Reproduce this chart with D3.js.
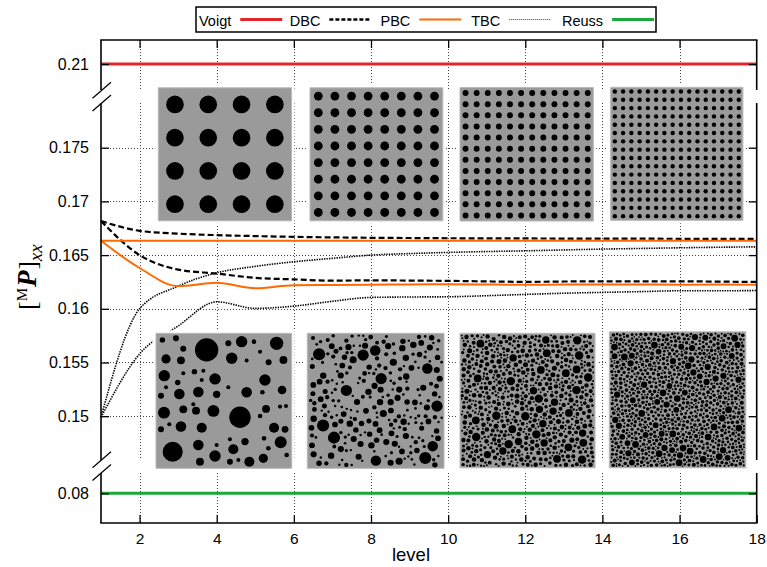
<!DOCTYPE html>
<html>
<head>
<meta charset="utf-8">
<script src="https://cdn.jsdelivr.net/npm/d3@7"></script>
<style>
  body { margin: 0; background: #fff; }
  svg { display: block; font-family: "Liberation Sans", Arial, Helvetica, sans-serif; }
</style>
</head>
<body>
<svg id="chart" width="767" height="567"></svg>
<script>
// ---- data --------------------------------------------------------------
const levels = [1, 2, 3, 4, 5, 6, 7, 8, 9, 10, 11, 12, 13, 14, 15, 16, 17, 18];

// upper bound (Voigt) and lower bound (Reuss)
const voigt = 0.21;
const reuss = 0.08;

// DBC: dirichlet boundary conditions (regular / random microstructures)
const dbcRegular = [0.16817, 0.16726, 0.16700, 0.16686, 0.16677, 0.16670, 0.16665, 0.16661, 0.16659,
                    0.16657, 0.16656, 0.16655, 0.16654, 0.16653, 0.16653, 0.16652, 0.16652, 0.16651];
const dbcRandom  = [0.16817, 0.16500, 0.16365, 0.16328, 0.16288, 0.16274, 0.16262, 0.16265, 0.16263,
                    0.16260, 0.16255, 0.16251, 0.16254, 0.16256, 0.16255, 0.16256, 0.16253, 0.16250];
// PBC: periodic boundary conditions
const pbcRegular = [0.16633, 0.16633, 0.16633, 0.16633, 0.16633, 0.16633, 0.16633, 0.16633, 0.16633,
                    0.16633, 0.16633, 0.16633, 0.16633, 0.16633, 0.16633, 0.16633, 0.16633, 0.16633];
const pbcRandom  = [0.16633, 0.16380, 0.16212, 0.16242, 0.16192, 0.16220, 0.16222, 0.16224, 0.16227,
                    0.16228, 0.16226, 0.16224, 0.16226, 0.16227, 0.16226, 0.16225, 0.16226, 0.16225];
// TBC: traction boundary conditions
const tbcRegular = [0.14990, 0.16000, 0.16211, 0.16335, 0.16395, 0.16438, 0.16470, 0.16500, 0.16514,
                    0.16525, 0.16533, 0.16540, 0.16548, 0.16556, 0.16562, 0.16568, 0.16573, 0.16577];
const tbcRandom  = [0.14990, 0.15580, 0.15840, 0.16065, 0.16004, 0.16025, 0.16070, 0.16106, 0.16110,
                    0.16112, 0.16122, 0.16134, 0.16145, 0.16153, 0.16160, 0.16168, 0.16168, 0.16170];

// axis ticks
const xTicks = [2, 4, 6, 8, 10, 12, 14, 16, 18];
const yTicksMain = [0.15, 0.155, 0.16, 0.165, 0.17, 0.175];
const yTicksUpper = [0.21];
const yTicksLower = [0.08];

// legend entries
const legendNames = ["Voigt", "DBC", "PBC", "TBC", "Reuss"];

// inset microstructures: inclusions per side of the regular arrays
const regularCounts = [4, 8, 12, 16];
// random microstructure of the coarsest level: [cx, cy, r] in a 100x100 cell
const randomCell = [
  [37.3, 12.3, 8.6], [61.9, 62.2, 7.9], [12.3, 87.7, 7.4], [88.9, 7.4, 4.9], [63.1, 6.2, 4.2],
  [5.9, 58.8, 4.4], [80.3, 34.6, 4.2], [43.5, 33.8, 4.2], [42.3, 57.5, 4.4], [6.1, 31.4, 4.2],
  [91.9, 80.7, 4.4], [55.8, 18.5, 4.2], [17.2, 44.9, 3.9], [31.2, 43.5, 3.9], [66.8, 43.7, 3.9],
  [18.4, 69.1, 3.9], [33.7, 69.9, 3.7], [31.2, 82.7, 3.9], [43.5, 90.9, 4.2], [68.8, 95.1, 3.7],
  [79.1, 92.6, 3.4], [57.0, 85.9, 3.7], [87.0, 69.9, 3.7], [93.9, 19.8, 2.9], [92.9, 42.0, 3.2],
  [7.4, 19.0, 3.4], [18.4, 20.0, 2.9], [81.1, 56.0, 2.9], [20.1, 56.3, 2.9], [29.5, 57.3, 2.9],
  [65.6, 80.2, 2.7], [54.5, 95.1, 2.2], [32.4, 95.1, 2.9], [95.1, 71.1, 2.5], [44.7, 45.2, 2.7],
  [3.7, 46.2, 2.2], [3.7, 71.1, 2.2], [83.0, 21.5, 2.2], [20.1, 11.4, 2.2], [4.7, 4.9, 2.0],
  [14.7, 3.7, 2.2], [53.3, 7.4, 2.2], [72.2, 6.2, 1.7], [76.7, 13.6, 1.5], [66.8, 20.2, 1.5],
  [20.1, 29.6, 1.5], [28.3, 28.4, 2.0], [34.9, 27.7, 1.5], [16.0, 36.5, 2.0], [33.7, 34.6, 1.5],
  [7.4, 40.0, 1.5], [53.3, 40.0, 1.5], [78.4, 43.7, 1.7], [91.4, 54.3, 1.5], [27.5, 52.6, 1.5],
  [76.7, 61.2, 1.7], [95.8, 53.8, 1.5], [9.8, 67.4, 1.5], [54.5, 78.5, 1.5], [79.6, 77.8, 1.7],
  [82.8, 85.2, 1.7], [96.3, 90.1, 1.7], [44.7, 82.7, 1.5], [60.7, 93.8, 1.5]
];
// finer random levels: size of the inclusions relative to the coarsest level,
// and how many more inclusions each level packs in
const randomRefinement = [0.5, 0.34, 0.26];
const randomPacking = [1.1, 1.35, 1.45];

// ---- layout ------------------------------------------------------------
const svg = d3.select("#chart");
const L = 101, R = 756.7, T = 40, B = 523;
// the y axis is broken into three bands
const bands = [[40, 90], [103, 460], [473, 523]];

const x = d3.scaleLinear().domain([1, 18]).range([L, R]);
const yMain  = d3.scaleLinear().domain([0.15, 0.175]).range([416.2, 147.7]);
const yUpper = d3.scaleLinear().domain([0.21, 0.235]).range([64, 64 - 268.5]);
const yLower = d3.scaleLinear().domain([0.08, 0.105]).range([493.3, 493.3 - 268.5]);

const gridColor = "#444";
const gridDash = "1,2";

// ---- grid ----------------------------------------------------------------
const grid = svg.append("g");
xTicks.filter(d => d < 18).forEach(v => {
  bands.forEach(([a, b]) => {
    grid.append("line")
      .attr("x1", Math.round(x(v)) + 0.5).attr("x2", Math.round(x(v)) + 0.5)
      .attr("y1", a).attr("y2", b)
      .attr("stroke", gridColor).attr("stroke-width", 1).attr("stroke-dasharray", gridDash);
  });
});
yTicksMain.forEach(v => {
  grid.append("line")
    .attr("x1", L).attr("x2", R)
    .attr("y1", Math.round(yMain(v)) + 0.5).attr("y2", Math.round(yMain(v)) + 0.5)
    .attr("stroke", gridColor).attr("stroke-width", 1).attr("stroke-dasharray", gridDash);
});

// ---- curves ------------------------------------------------------------
const curveLine = d3.line()
  .x((d, i) => x(levels[i]))
  .y(d => yMain(d))
  .curve(d3.curveMonotoneX);

const styles = {
  dbc: { stroke: "#000", width: 2.2, dash: "6,3" },
  pbc: { stroke: "#ff6a00", width: 2, dash: null },
  tbc: { stroke: "#000", width: 1.6, dash: "1.4,1.1" },
};
const seriesList = [
  [tbcRegular, styles.tbc], [tbcRandom, styles.tbc],
  [dbcRegular, styles.dbc], [dbcRandom, styles.dbc],
  [pbcRegular, styles.pbc], [pbcRandom, styles.pbc],
];
const curves = svg.append("g");
seriesList.forEach(([vals, st]) => {
  curves.append("path")
    .datum(vals)
    .attr("d", curveLine)
    .attr("fill", "none")
    .attr("stroke", st.stroke)
    .attr("stroke-width", st.width)
    .attr("stroke-dasharray", st.dash);
});

// bounds
curves.append("line")
  .attr("x1", x(levels[0])).attr("x2", x(levels[levels.length - 1]))
  .attr("y1", yUpper(voigt)).attr("y2", yUpper(voigt))
  .attr("stroke", "#e3262b").attr("stroke-width", 3);
curves.append("line")
  .attr("x1", x(levels[0])).attr("x2", x(levels[levels.length - 1]))
  .attr("y1", yLower(reuss)).attr("y2", yLower(reuss))
  .attr("stroke", "#1ca83a").attr("stroke-width", 3);

// ---- inset microstructures -----------------------------------------------
function mulberry32(a) {
  return function () {
    a |= 0; a = a + 0x6D2B79F5 | 0;
    let t = Math.imul(a ^ a >>> 15, 1 | a);
    t = t + Math.imul(t ^ t >>> 7, 61 | t) ^ t;
    return ((t ^ t >>> 14) >>> 0) / 4294967296;
  };
}

// random sequential addition of the coarse inclusion sizes, refined by s
function refineRandom(s, packing, seed) {
  const rand = mulberry32(seed);
  const copies = Math.round(packing / (s * s));
  let radii = [];
  for (let c = 0; c < copies; c++) randomCell.forEach(d => radii.push(d[2] * s + 0.3 * (1 - s)));
  radii.sort((a, b) => b - a);
  const gap = 0.55 * s + 0.3;
  const maxR = radii[0];
  const cell = 2 * maxR + gap;
  const n = Math.ceil(100 / cell);
  const buckets = Array.from({ length: n * n }, () => []);
  const placed = [];
  radii.forEach(r => {
    for (let k = 0; k < 800; k++) {
      const m = r + 0.5;
      const cx = m + rand() * (100 - 2 * m);
      const cy = m + rand() * (100 - 2 * m);
      const gx = Math.min(n - 1, Math.floor(cx / cell)), gy = Math.min(n - 1, Math.floor(cy / cell));
      let ok = true;
      for (let i = Math.max(0, gx - 1); i <= Math.min(n - 1, gx + 1) && ok; i++) {
        for (let j = Math.max(0, gy - 1); j <= Math.min(n - 1, gy + 1) && ok; j++) {
          for (const p of buckets[j * n + i]) {
            const dx = p[0] - cx, dy = p[1] - cy, rr = p[2] + r + gap;
            if (dx * dx + dy * dy < rr * rr) { ok = false; break; }
          }
        }
      }
      if (ok) {
        const c = [cx, cy, r];
        placed.push(c);
        buckets[gy * n + gx].push(c);
        break;
      }
    }
  });
  return placed;
}

const regularCells = regularCounts.map(n => {
  const out = [];
  for (let i = 0; i < n; i++)
    for (let j = 0; j < n; j++)
      out.push([(i + 0.5) * 100 / n, (j + 0.5) * 100 / n, 26.5 / n]);
  return out;
});
const randomCells = [randomCell].concat(
  randomRefinement.map((s, i) => refineRandom(s, randomPacking[i], 1234 + 97 * i)));

const insetBoxes = [
  { x: 158.3, y: 87.8, w: 133.2, h: 133 },
  { x: 310.0, y: 87.8, w: 132.8, h: 133 },
  { x: 460.0, y: 87.5, w: 133.3, h: 133.5 },
  { x: 610.7, y: 87.3, w: 132.2, h: 133 },
  { x: 156.0, y: 333.3, w: 135.7, h: 135 },
  { x: 307.3, y: 333.3, w: 136.7, h: 135 },
  { x: 460.0, y: 333.3, w: 135.0, h: 134.5 },
  { x: 609.3, y: 331.8, w: 136.5, h: 136 },
];
const insetData = regularCells.concat(randomCells);

const insets = svg.append("g");
insetBoxes.forEach((bx, k) => {
  insets.append("rect")
    .attr("x", bx.x - 3).attr("y", bx.y - 3)
    .attr("width", bx.w + 6).attr("height", bx.h + 6)
    .attr("fill", "#fff");
  const g = insets.append("g")
    .attr("transform", `translate(${bx.x},${bx.y}) scale(${bx.w / 100},${bx.h / 100})`);
  g.append("rect")
    .attr("width", 100).attr("height", 100)
    .attr("fill", "#9a9a9a")
    .attr("stroke", "#b8b8b8").attr("stroke-width", 1)
    .attr("vector-effect", "non-scaling-stroke");
  g.selectAll("circle").data(insetData[k]).join("circle")
    .attr("cx", d => d[0]).attr("cy", d => d[1]).attr("r", d => d[2])
    .attr("fill", "#000");
});

// ---- frame and axes ------------------------------------------------------
const frame = svg.append("g").attr("stroke", "#000").attr("stroke-width", 1.6).attr("fill", "none");
frame.append("line").attr("x1", L - 0.8).attr("x2", R + 0.8).attr("y1", T).attr("y2", T);
frame.append("line").attr("x1", L - 0.8).attr("x2", R + 0.8).attr("y1", B).attr("y2", B);
bands.forEach(([a, b]) => {
  frame.append("line").attr("x1", L).attr("x2", L).attr("y1", a).attr("y2", b);
  frame.append("line").attr("x1", R).attr("x2", R).attr("y1", a).attr("y2", b);
});
// break marks on the left axis
[90.3, 103, 459.7, 472.5].forEach(yc => {
  frame.append("line")
    .attr("x1", L - 8.5).attr("y1", yc + 8)
    .attr("x2", L + 10).attr("y2", yc - 8)
    .attr("stroke-width", 1.2);
});

function styleAxis(g, size) {
  g.select(".domain").remove();
  g.selectAll(".tick line").attr("stroke", "#000").attr("stroke-width", 1.3);
  g.selectAll(".tick text").attr("fill", "#000").style("font-size", size + "px")
    .style("font-family", "'Liberation Sans', Arial, sans-serif");
}

svg.append("g").attr("transform", `translate(0,${B})`)
  .call(d3.axisBottom(x).tickValues(xTicks).tickSize(-8).tickPadding(10))
  .call(g => styleAxis(g, 15.5));
svg.append("g").attr("transform", `translate(0,${T})`)
  .call(d3.axisTop(x).tickValues(xTicks.filter(d => d < 18)).tickSize(-8).tickFormat(""))
  .call(g => styleAxis(g, 15));

const fmt = d3.format("~g");
[[yMain, yTicksMain], [yUpper, yTicksUpper], [yLower, yTicksLower]].forEach(([sc, vals]) => {
  svg.append("g").attr("transform", `translate(${L},0)`)
    .call(d3.axisLeft(sc).tickValues(vals).tickSize(-8).tickPadding(12).tickFormat(fmt))
    .call(g => styleAxis(g, 16));
  svg.append("g").attr("transform", `translate(${R},0)`)
    .call(d3.axisRight(sc).tickValues(vals).tickSize(-8).tickFormat(""))
    .call(g => styleAxis(g, 16));
});

// axis titles
svg.append("text")
  .attr("x", 411).attr("y", 561)
  .attr("text-anchor", "middle")
  .style("font-size", "18.5px")
  .text("level");

const ylab = svg.append("text")
  .attr("transform", "translate(36,277) rotate(-90)")
  .attr("text-anchor", "middle")
  .style("font-family", "'Liberation Serif', 'DejaVu Serif', serif")
  .style("font-size", "25px");
ylab.append("tspan").text("[");
ylab.append("tspan").attr("dy", -9).style("font-size", "15px").text("M");
ylab.append("tspan").attr("dy", 9).attr("dx", 1).style("font-weight", "bold").style("font-style", "italic").style("font-size", "27px").text("P");
ylab.append("tspan").attr("dx", 1).text("]");
ylab.append("tspan").attr("dy", 6).style("font-style", "italic").style("font-size", "19px").text("xx");

// ---- legend ----------------------------------------------------------------
const legend = svg.append("g");
legend.append("rect")
  .attr("x", 196).attr("y", 7).attr("width", 460).attr("height", 25)
  .attr("fill", "#fff").attr("stroke", "#000").attr("stroke-width", 1.5);
const legendStyles = [
  { stroke: "#e3262b", width: 3, dash: null },
  { stroke: "#000", width: 2.4, dash: "4,2" },
  styles.pbc,
  { stroke: "#444", width: 1.2, dash: "1,1" },
  { stroke: "#1ca83a", width: 3, dash: null },
];
legendNames.forEach((name, i) => {
  const tx = 199 + 90.75 * i;
  const t = legend.append("text")
    .attr("x", tx).attr("y", 25.5)
    .style("font-size", "14.5px")
    .text(name);
  const sx = tx + t.node().getComputedTextLength() + 9;
  const st = legendStyles[i];
  legend.append("line")
    .attr("x1", sx).attr("x2", sx + 42)
    .attr("y1", 19.5).attr("y2", 19.5)
    .attr("stroke", st.stroke).attr("stroke-width", st.width)
    .attr("stroke-dasharray", st.dash);
});
</script>
</body>
</html>
